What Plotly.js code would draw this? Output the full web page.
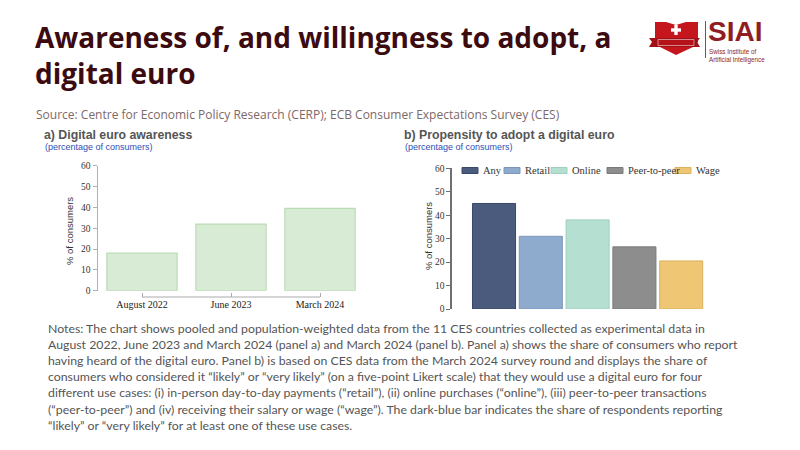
<!DOCTYPE html>
<html>
<head>
<meta charset="utf-8">
<script src="https://cdn.plot.ly/plotly-3.0.1.min.js"></script>
<style>
  html, body { margin: 0; padding: 0; background: #ffffff; }
  #chart { width: 800px; height: 450px; }
</style>
</head>
<body>
<div id="chart"></div>
<script>
// ---------- DATA ----------
const awarenessDates = ["August 2022", "June 2023", "March 2024"];
const awarenessValues = [18, 32, 39.5];

const useCases = ["Any", "Retail", "Online", "Peer-to-peer", "Wage"];
const adoptionValues = [45, 31, 38, 26.5, 20.5];

const yTicks = [0, 10, 20, 30, 40, 50, 60];

const titleLines = ["Awareness of, and willingness to adopt, a", "digital euro"];
const sourceText = "Source: Centre for Economic Policy Research (CERP); ECB Consumer Expectations Survey (CES)";
const notesLines = [
  "Notes: The chart shows pooled and population-weighted data from the 11 CES countries collected as experimental data in",
  "August 2022, June 2023 and March 2024 (panel a) and March 2024 (panel b). Panel a) shows the share of consumers who report",
  "having heard of the digital euro. Panel b) is based on CES data from the March 2024 survey round and displays the share of",
  "consumers who considered it \u201clikely\u201d or \u201cvery likely\u201d (on a five-point Likert scale) that they would use a digital euro for four",
  "different use cases: (i) in-person day-to-day payments (\u201cretail\u201d), (ii) online purchases (\u201conline\u201d), (iii) peer-to-peer transactions",
  "(\u201cpeer-to-peer\u201d) and (iv) receiving their salary or wage (\u201cwage\u201d). The dark-blue bar indicates the share of respondents reporting",
  "\u201clikely\u201d or \u201cvery likely\u201d for at least one of these use cases."
];

// ---------- STYLE ----------
const W = 800, H = 450;
const px = x => x / W;
const py = y => 1 - y / H;
const useColors = ["#4b5b7d", "#8eaacd", "#b4dfd1", "#8d8d8d", "#eec674"];
const useLines  = ["#394866", "#7c97bb", "#9fcfbf", "#7a7a7a", "#dcb260"];
const serif = "Liberation Serif, Times New Roman, serif";
const narrow = "Liberation Sans Narrow, Liberation Sans, Arial, sans-serif";
const bodyFont = "Lato, Noto Sans, sans-serif";
const headFont = "Open Sans, Noto Sans, sans-serif";

// ---------- TRACES ----------
const traces = [];
traces.push({
  type: "bar", x: awarenessDates, y: awarenessValues, xaxis: "x", yaxis: "y",
  width: 0.79, showlegend: false, hoverinfo: "x+y",
  marker: { color: "#d8ebd5", line: { color: "#bcdcb7", width: 1.2 } }
});
useCases.forEach((c, i) => {
  traces.push({
    type: "bar", x: [c], y: [adoptionValues[i]], name: c, xaxis: "x2", yaxis: "y2",
    width: 0.92, showlegend: false, hoverinfo: "x+y",
    marker: { color: useColors[i], line: { color: useLines[i], width: 1 } }
  });
});

// ---------- ANNOTATIONS ----------
const ann = [];
titleLines.forEach((t, i) => ann.push({
  text: "<b>" + t + "</b>", xref: "paper", yref: "paper", x: px(33), y: py(37 + i * 36),
  xanchor: "left", yanchor: "middle", showarrow: false,
  font: { family: headFont, size: 28, color: "#3b0b0f" }
}));
ann.push({
  text: sourceText, xref: "paper", yref: "paper", x: px(34), y: py(114),
  xanchor: "left", yanchor: "middle", showarrow: false,
  font: { family: headFont, size: 12, color: "#7d6868" }
});
notesLines.forEach((t, i) => ann.push({
  text: t, xref: "paper", yref: "paper", x: px(46), y: py(328 + i * 16.2),
  xanchor: "left", yanchor: "middle", showarrow: false,
  font: { family: bodyFont, size: 12.3, color: "#555555" }
}));
// panel titles
[["a) Digital euro awareness", 42], ["b) Propensity to adopt a digital euro", 402]].forEach(([t, x]) => {
  ann.push({ text: "<b>" + t + "</b>", xref: "paper", yref: "paper", x: px(x), y: py(135),
    xanchor: "left", yanchor: "middle", showarrow: false,
    font: { family: "Liberation Sans, Arial, sans-serif", size: 12.3, color: "#555555" } });
  ann.push({ text: "(percentage of consumers)", xref: "paper", yref: "paper", x: px(x + 1), y: py(146.5),
    xanchor: "left", yanchor: "middle", showarrow: false,
    font: { family: "Liberation Sans, Arial, sans-serif", size: 9, color: "#2d4fb4" } });
});
// y-axis titles
[[69, 231], [428, 236]].forEach(([x, y]) => ann.push({
  text: "% of consumers", xref: "paper", yref: "paper", x: px(x), y: py(y),
  xanchor: "center", yanchor: "middle", textangle: -90, showarrow: false,
  font: { family: narrow, size: 9.5, color: "#333333" }
}));
// manual legend (compact)
const legendStarts = [462, 504, 551, 607, 675];
const shapes = [];
useCases.forEach((c, i) => {
  const x0 = legendStarts[i];
  shapes.push({ type: "rect", xref: "paper", yref: "paper",
    x0: px(x0), x1: px(x0 + 16), y0: py(173.5), y1: py(167.5),
    fillcolor: useColors[i], line: { color: useLines[i], width: 1 } });
  ann.push({ text: c, xref: "paper", yref: "paper", x: px(x0 + 19), y: py(170.8),
    xanchor: "left", yanchor: "middle", showarrow: false,
    font: { family: serif, size: 10.5, color: "#333333" } });
});
// panel a x-axis range-frame line
shapes.push({ type: "line", xref: "x", yref: "paper", x0: 0, x1: 2,
  y0: py(297), y1: py(297), line: { color: "#aaaaaa", width: 1 } });

// logo
const pathFrom = pts => pts.map((p, i) => (i ? "L" : "M") + px(p[0]) + "," + py(p[1])).join(" ") + " Z";
shapes.push({ type: "path", xref: "paper", yref: "paper",
  path: pathFrom([[655,22],[666,22],[676,25],[686,22],[698,22],[698,42],[693,47],[676,55],[660,47],[655,42]]),
  fillcolor: "#c4161c", line: { width: 0 } });
shapes.push({ type: "path", xref: "paper", yref: "paper",
  path: pathFrom([[649,38],[700,38],[697,42],[700,47],[649,47],[652,42]]),
  fillcolor: "#a01016", line: { width: 0 } });
shapes.push({ type: "rect", xref: "paper", yref: "paper", x0: px(658), x1: px(694), y0: py(45.5), y1: py(39.5),
  fillcolor: "#b5121a", line: { color: "#ffffff", width: 0.5 } });
shapes.push({ type: "rect", xref: "paper", yref: "paper", x0: px(674.3), x1: px(677.7), y0: py(35), y1: py(25),
  fillcolor: "#ffffff", line: { width: 0 } });
shapes.push({ type: "rect", xref: "paper", yref: "paper", x0: px(671), x1: px(681), y0: py(31.7), y1: py(28.3),
  fillcolor: "#ffffff", line: { width: 0 } });
shapes.push({ type: "line", xref: "paper", yref: "paper", x0: px(705.5), x1: px(705.5), y0: py(21), y1: py(58),
  line: { color: "#b23a3a", width: 1 } });
ann.push({
  text: "<b>SIAI</b>", xref: "paper", yref: "paper", x: px(707), y: py(31),
  xanchor: "left", yanchor: "middle", showarrow: false, borderpad: 0,
  font: { family: "Liberation Sans, Arial, sans-serif", size: 28, color: "#8f1d22" }
});
ann.push({
  text: "Swiss Institute of<br>Artificial Intelligence", xref: "paper", yref: "paper", x: px(708), y: py(56),
  xanchor: "left", yanchor: "middle", align: "left", showarrow: false, borderpad: 0,
  font: { family: "Liberation Sans, Arial, sans-serif", size: 6.3, color: "#8f1d22" }
});

// ---------- LAYOUT ----------
const layout = {
  width: W, height: H, margin: { l: 0, r: 0, t: 0, b: 0 },
  paper_bgcolor: "#ffffff", plot_bgcolor: "rgba(0,0,0,0)",
  barmode: "overlay", showlegend: false,
  xaxis: {
    domain: [px(97.5), px(364.5)], anchor: "free", position: py(297),
    type: "category", categoryorder: "array", categoryarray: awarenessDates,
    range: [-0.5, 2.5], showline: false, showgrid: false, zeroline: false,
    ticks: "inside", ticklen: 4, tickcolor: "#aaaaaa", tickwidth: 1,
    tickfont: { family: serif, size: 10, color: "#222222" }, fixedrange: true
  },
  yaxis: {
    domain: [py(290.7), py(165.7)], anchor: "x", range: [0, 60],
    tickvals: yTicks, showgrid: false, zeroline: false,
    showline: true, linecolor: "#b0b0b0", linewidth: 1,
    ticks: "outside", ticklen: 4, tickcolor: "#b0b0b0",
    tickfont: { family: serif, size: 9.5, color: "#333333" }, fixedrange: true
  },
  xaxis2: {
    domain: [px(451.9), px(704.6)], anchor: "y2",
    type: "category", categoryorder: "array", categoryarray: useCases,
    range: [-0.9, 4.5], showline: false, showgrid: false, zeroline: false,
    showticklabels: false, ticks: "", fixedrange: true
  },
  yaxis2: {
    domain: [py(309), py(168.3)], anchor: "x2", range: [0, 60],
    tickvals: yTicks, showgrid: false, zeroline: false,
    showline: true, linecolor: "#707070", linewidth: 1.5,
    ticks: "outside", ticklen: 4, tickcolor: "#707070",
    tickfont: { family: serif, size: 9.5, color: "#333333" }, fixedrange: true
  },
  annotations: ann,
  shapes: shapes
};

Plotly.newPlot("chart", traces, layout, { displayModeBar: false, staticPlot: true });
</script>
</body>
</html>
